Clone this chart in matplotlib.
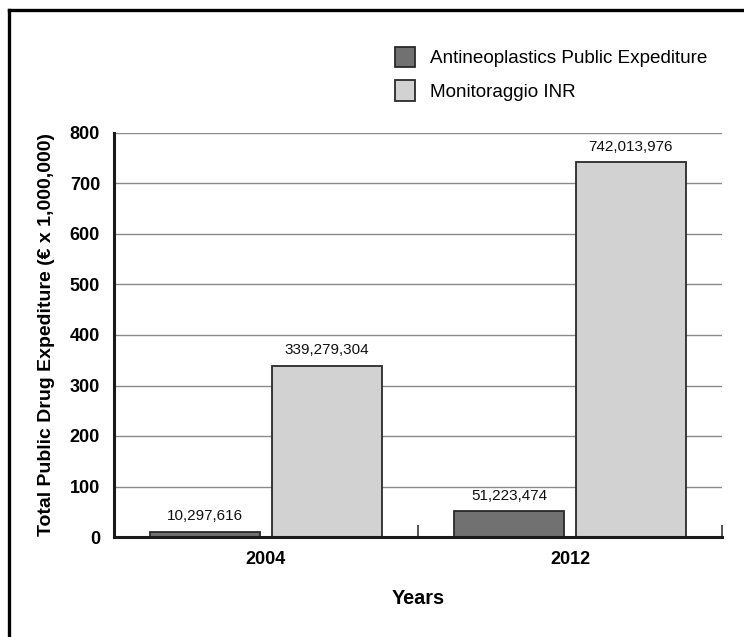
import matplotlib
matplotlib.use("Agg")
import matplotlib.pyplot as plt
from matplotlib.patches import Patch
from matplotlib.lines import Line2D
from matplotlib.ticker import FixedLocator

plt.rcParams['font.family'] = ['Liberation Sans', 'DejaVu Sans']

years = ["2004", "2012"]
series_names = ["Antineoplastics Public Expediture", "Monitoraggio INR"]
antineoplastics = [10.297616, 51.223474]
inr = [339.279304, 742.013976]
value_labels_anti = ["10,297,616", "51,223,474"]
value_labels_inr = ["339,279,304", "742,013,976"]
yticks = [0, 100, 200, 300, 400, 500, 600, 700, 800]

dark = "#717171"
light = "#d2d2d2"
edge = "#2a2a2a"

fig = plt.figure(figsize=(7.44, 6.37), dpi=100)
ax = fig.add_axes([114/744, 1-537/637, (722-114)/744, (537-133)/637])

x = list(range(len(years)))
w = 0.36
off = 0.2
b1 = ax.bar([i - off for i in x], antineoplastics, width=w, color=dark,
            edgecolor=edge, linewidth=1.3, zorder=3)
b2 = ax.bar([i + off for i in x], inr, width=w, color=light,
            edgecolor=edge, linewidth=1.3, zorder=3)

for bars, labels in ((b1, value_labels_anti), (b2, value_labels_inr)):
    for rect, lab in zip(bars, labels):
        ax.annotate(lab, (rect.get_x() + rect.get_width()/2, rect.get_height()),
                    xytext=(0, 6), textcoords="offset points",
                    ha="center", va="bottom", fontsize=11, color="#111111")

ax.set_xlim(-0.5, 1.5)
ax.set_ylim(0, 800)
ax.set_yticks(yticks)
ax.set_yticklabels([str(t) for t in yticks], fontsize=13, fontweight="bold")
ax.tick_params(axis="y", length=0, pad=10)
ax.set_xticks(x)
ax.set_xticklabels(years, fontsize=13, fontweight="bold")
ax.tick_params(axis="x", which="major", length=0, pad=10)
ax.xaxis.set_minor_locator(FixedLocator([0.5, 1.5]))
ax.tick_params(axis="x", which="minor", direction="in", length=9, width=1.2, color="#333333")

ax.grid(axis="y", color="#8a8a8a", linewidth=1.0, zorder=0)
ax.set_axisbelow(True)
for s in ("top", "right"):
    ax.spines[s].set_visible(False)
for s in ("left", "bottom"):
    ax.spines[s].set_linewidth(2.2)
    ax.spines[s].set_color("#1a1a1a")
    ax.spines[s].set_zorder(4)

ax.set_ylabel("Total Public Drug Expediture (€ x 1,000,000)", fontsize=14,
              fontweight="bold", labelpad=11)
ax.set_xlabel("Years", fontsize=14.3, fontweight="bold", labelpad=15)

handles = [Patch(facecolor=dark, edgecolor=edge, linewidth=1.3),
           Patch(facecolor=light, edgecolor=edge, linewidth=1.3)]
fig.legend(handles, series_names, loc="upper left",
           bbox_to_anchor=(387/744, 1-39/637), frameon=False, fontsize=13.6,
           handlelength=1.1, handleheight=1.3, handletextpad=0.75,
           labelspacing=0.7, borderaxespad=0)

# outer frame
fig.add_artist(Line2D([9/744, 1.0], [1-10/637, 1-10/637], color="black", linewidth=2.4,
                      transform=fig.transFigure))
fig.add_artist(Line2D([9/744, 9/744], [0.0, 1-10/637], color="black", linewidth=2.4,
                      transform=fig.transFigure))

fig.savefig("out.png", dpi=100)
